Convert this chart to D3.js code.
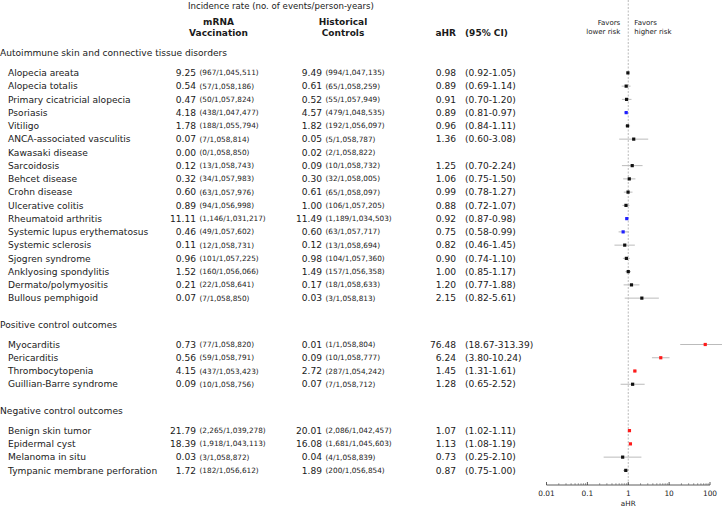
<!DOCTYPE html>
<html>
<head>
<meta charset="utf-8">
<script src="https://cdn.jsdelivr.net/npm/d3@7"></script>
<style>
  body { margin: 0; background: #fff; }
  svg { font-family: "DejaVu Sans", Verdana, sans-serif; }
</style>
</head>
<body>
<svg id="forest" width="722" height="507"></svg>
<script>
// section titles and how many outcomes sit in each one
const groups = ["Autoimmune skin and connective tissue disorders", "Positive control outcomes", "Negative control outcomes"];
const groupSizes = [18, 4, 4];

const outcomes = [
  "Alopecia areata", "Alopecia totalis", "Primary cicatricial alopecia", "Psoriasis", "Vitiligo",
  "ANCA-associated vasculitis", "Kawasaki disease", "Sarcoidosis", "Behcet disease", "Crohn disease",
  "Ulcerative colitis", "Rheumatoid arthritis", "Systemic lupus erythematosus", "Systemic sclerosis",
  "Sjogren syndrome", "Anklyosing spondylitis", "Dermato/polymyositis", "Bullous pemphigoid",
  "Myocarditis", "Pericarditis", "Thrombocytopenia", "Guillian-Barre syndrome",
  "Benign skin tumor", "Epidermal cyst", "Melanoma in situ", "Tympanic membrane perforation"
];

const vaccRate = [9.25, 0.54, 0.47, 4.18, 1.78, 0.07, 0.00, 0.12, 0.32, 0.60, 0.89, 11.11, 0.46, 0.11, 0.96, 1.52, 0.21, 0.07,
                  0.73, 0.56, 4.15, 0.09, 21.79, 18.39, 0.03, 1.72];
const vaccEvents = [967, 57, 50, 438, 188, 7, 0, 13, 34, 63, 94, 1146, 49, 12, 101, 160, 22, 7,
                    77, 59, 437, 10, 2265, 1918, 3, 182];
const vaccPY = [1045511, 1058186, 1057824, 1047477, 1055794, 1058814, 1058850, 1058743, 1057983, 1057976, 1056998, 1031217,
                1057602, 1058731, 1057225, 1056066, 1058641, 1058850, 1058820, 1058791, 1053423, 1058756,
                1039278, 1043113, 1058872, 1056612];

const histRate = [9.49, 0.61, 0.52, 4.57, 1.82, 0.05, 0.02, 0.09, 0.30, 0.61, 1.00, 11.49, 0.60, 0.12, 0.98, 1.49, 0.17, 0.03,
                  0.01, 0.09, 2.72, 0.07, 20.01, 16.08, 0.04, 1.89];
const histEvents = [994, 65, 55, 479, 192, 5, 2, 10, 32, 65, 106, 1189, 63, 13, 104, 157, 18, 3,
                    1, 10, 287, 7, 2086, 1681, 4, 200];
const histPY = [1047135, 1058259, 1057949, 1048535, 1056097, 1058787, 1058822, 1058732, 1058005, 1058097, 1057205, 1034503,
                1057717, 1058694, 1057360, 1056358, 1058633, 1058813, 1058804, 1058777, 1054242, 1058712,
                1042457, 1045603, 1058839, 1056854];

// null = not estimable (Kawasaki disease)
const aHR  = [0.98, 0.89, 0.91, 0.89, 0.96, 1.36, null, 1.25, 1.06, 0.99, 0.88, 0.92, 0.75, 0.82, 0.90, 1.00, 1.20, 2.15,
              76.48, 6.24, 1.45, 1.28, 1.07, 1.13, 0.73, 0.87];
const ciLo = [0.92, 0.69, 0.70, 0.81, 0.84, 0.60, null, 0.70, 0.75, 0.78, 0.72, 0.87, 0.58, 0.46, 0.74, 0.85, 0.77, 0.82,
              18.67, 3.80, 1.31, 0.65, 1.02, 1.08, 0.25, 0.75];
const ciHi = [1.05, 1.14, 1.20, 0.97, 1.11, 3.08, null, 2.24, 1.50, 1.27, 1.07, 0.98, 0.99, 1.45, 1.10, 1.17, 1.88, 5.61,
              313.39, 10.24, 1.61, 2.52, 1.11, 1.19, 2.10, 1.00];

const axisTicks = [0.01, 0.1, 1, 10, 100];

const svg = d3.select("#forest");
const width = +svg.attr("width");
const height = +svg.attr("height");

const f2 = d3.format(".2f");
const fc = d3.format(",");

// row slots: header, gap of 1.5, rows, gap of 2 before next header
const rows = [];
const heads = [];
let slot = 0, k = 0;
groups.forEach((g, gi) => {
  heads.push({ title: g, slot: slot });
  slot += 1.5;
  for (let j = 0; j < groupSizes[gi]; j++) {
    rows.push({ i: k, slot: slot });
    k++; slot++;
  }
  slot += 1;
});

const y = d3.scaleLinear().domain([0, 1]).range([53, 66.25]);
const x = d3.scaleLog().domain([0.01, 100]).range([546.5, 710]);
const axisY = 485;

const fs = 9.1, fsSmall = 7.3;
const ink = "#1a1a1a";

// header
svg.append("text").attr("x", 188).attr("y", 9).attr("font-size", 8.6).attr("fill", ink)
  .text("Incidence rate (no. of events/person-years)");
[["mRNA", "Vaccination", 218.5], ["Historical", "Controls", 343]].forEach(h => {
  const t = svg.append("text").attr("x", h[2]).attr("text-anchor", "middle")
    .attr("font-size", 9).attr("font-weight", "bold").attr("fill", ink);
  t.append("tspan").attr("x", h[2]).attr("y", 25).text(h[0]);
  t.append("tspan").attr("x", h[2]).attr("y", 36).text(h[1]);
});
svg.append("text").attr("x", 456).attr("y", 36).attr("text-anchor", "end")
  .attr("font-size", 9).attr("font-weight", "bold").attr("fill", ink).text("aHR");
svg.append("text").attr("x", 465).attr("y", 36)
  .attr("font-size", 9).attr("font-weight", "bold").attr("fill", ink).text("(95% CI)");

// favors labels
const x1 = x(1);
svg.append("text").attr("x", x1 - 8).attr("text-anchor", "end").attr("font-size", 7).attr("fill", "#222")
  .selectAll("tspan").data(["Favors", "lower risk"]).join("tspan")
  .attr("x", x1 - 8).attr("y", (d, i) => 25 + i * 8.5).text(d => d);
svg.append("text").attr("x", x1 + 6).attr("font-size", 7).attr("fill", "#222")
  .selectAll("tspan").data(["Favors", "higher risk"]).join("tspan")
  .attr("x", x1 + 6).attr("y", (d, i) => 25 + i * 8.5).text(d => d);

// reference line at aHR = 1
svg.append("line").attr("x1", x1).attr("x2", x1).attr("y1", 0).attr("y2", axisY)
  .attr("stroke", "#aaa").attr("stroke-width", 0.8).attr("stroke-dasharray", "2,1.5");

// section headers
svg.selectAll("text.head").data(heads).join("text").attr("class", "head")
  .attr("x", 0).attr("y", d => y(d.slot)).attr("dy", "0.35em")
  .attr("font-size", fs).attr("fill", ink).text(d => d.title);

const rowG = svg.selectAll("g.row").data(rows).join("g").attr("class", "row")
  .attr("transform", d => `translate(0,${y(d.slot)})`);

rowG.append("text").attr("x", 8).attr("dy", "0.35em").attr("font-size", fs).attr("fill", ink)
  .text(d => outcomes[d.i]);

rowG.append("text").attr("x", 196).attr("dy", "0.35em").attr("text-anchor", "end")
  .attr("font-size", fs).attr("fill", ink).text(d => f2(vaccRate[d.i]));
rowG.append("text").attr("x", 199.5).attr("dy", "0.35em")
  .attr("font-size", fsSmall).attr("fill", ink)
  .text(d => `(${fc(vaccEvents[d.i])}/${fc(vaccPY[d.i])})`);

rowG.append("text").attr("x", 322).attr("dy", "0.35em").attr("text-anchor", "end")
  .attr("font-size", fs).attr("fill", ink).text(d => f2(histRate[d.i]));
rowG.append("text").attr("x", 325.5).attr("dy", "0.35em")
  .attr("font-size", fsSmall).attr("fill", ink)
  .text(d => `(${fc(histEvents[d.i])}/${fc(histPY[d.i])})`);

const est = rowG.filter(d => aHR[d.i] != null);
est.append("text").attr("x", 456).attr("dy", "0.35em").attr("text-anchor", "end")
  .attr("font-size", fs).attr("fill", ink).text(d => f2(aHR[d.i]));
est.append("text").attr("x", 465).attr("dy", "0.35em")
  .attr("font-size", fs).attr("fill", ink)
  .text(d => `(${f2(ciLo[d.i])}-${f2(ciHi[d.i])})`);

// CI whiskers and point estimates
const markColor = i => ciHi[i] < 1 ? "#1f1fff" : (ciLo[i] > 1 ? "#ff1a1a" : "#111");
est.append("line")
  .attr("x1", d => x(ciLo[d.i])).attr("x2", d => Math.min(x(ciHi[d.i]), width))
  .attr("stroke", "#bbb").attr("stroke-width", 1);
est.append("rect")
  .attr("x", d => x(aHR[d.i]) - 1.6).attr("y", -1.6)
  .attr("width", 3.2).attr("height", 3.2)
  .attr("fill", d => markColor(d.i));

// log axis
const axis = svg.append("g").attr("transform", `translate(0,${axisY})`);
axis.append("line").attr("x1", x(0.01)).attr("x2", x(100)).attr("stroke", "#333").attr("stroke-width", 0.8);
const minor = [];
axisTicks.slice(0, -1).forEach(t => d3.range(2, 10).forEach(m => minor.push(t * m)));
axis.selectAll("line.minor").data(minor).join("line").attr("class", "minor")
  .attr("x1", d => x(d)).attr("x2", d => x(d)).attr("y1", 0).attr("y2", -1.8)
  .attr("stroke", "#555").attr("stroke-width", 0.6);
axis.selectAll("line.major").data(axisTicks).join("line").attr("class", "major")
  .attr("x1", d => x(d)).attr("x2", d => x(d)).attr("y1", 0).attr("y2", -3)
  .attr("stroke", "#333").attr("stroke-width", 0.8);
axis.selectAll("text.tick").data(axisTicks).join("text").attr("class", "tick")
  .attr("x", d => x(d)).attr("y", 11).attr("text-anchor", "middle")
  .attr("font-size", 7.4).attr("fill", "#222").text(d => d);
axis.append("text").attr("x", x1).attr("y", 20.5).attr("text-anchor", "middle")
  .attr("font-size", 7.2).attr("fill", "#222").text("aHR");
</script>
</body>
</html>
